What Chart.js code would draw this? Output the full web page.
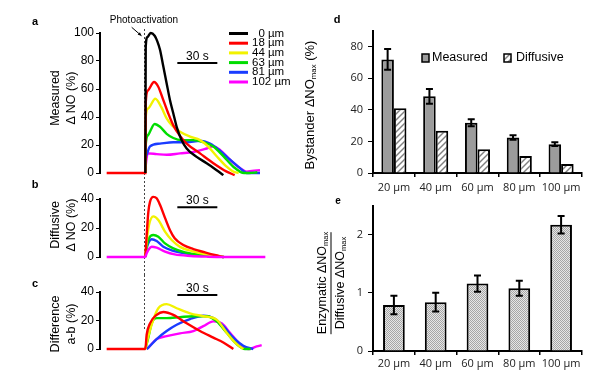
<!DOCTYPE html>
<html>
<head>
<meta charset="utf-8">
<script src="https://cdn.jsdelivr.net/npm/chart.js@4.4.0/dist/chart.umd.min.js"></script>
<style>
  html, body { margin: 0; padding: 0; background: #fff; }
  #fig { position: relative; width: 600px; height: 374px; overflow: hidden; font-family: "Liberation Sans", Arial, sans-serif; color: #000; }
  #fig canvas { position: absolute; }
  .lbl { position: absolute; transform: translate(-50%, -50%); white-space: nowrap; }
  .panel { font-weight: bold; font-size: 11px; }
  .ytitle { position: absolute; transform: translate(-50%, -50%) rotate(-90deg); white-space: nowrap; text-align: center; font-size: 12.5px; line-height: 16px; }
  .frac { line-height: 17px; }
  .frac .den { border-top: 1px solid #000; }
  sub { font-size: 0.6em; line-height: 0; vertical-align: -0.3em; }
</style>
</head>
<body>
<div id="fig">
  <canvas id="chartA" width="300" height="185" style="left:0;top:0"></canvas>
  <canvas id="chartB" width="300" height="90" style="left:0;top:185px"></canvas>
  <canvas id="chartC" width="300" height="99" style="left:0;top:275px"></canvas>
  <canvas id="chartD" width="300" height="194" style="left:300px;top:0"></canvas>
  <canvas id="chartE" width="300" height="180" style="left:300px;top:194px"></canvas>

  <div class="lbl panel" style="left:35px;top:21px">a</div>
  <div class="lbl panel" style="left:35px;top:184px">b</div>
  <div class="lbl panel" style="left:35px;top:283px">c</div>
  <div class="lbl panel" style="left:337px;top:19px">d</div>
  <div class="lbl panel" style="left:338px;top:200px;font-size:10px">e</div>
  <div class="lbl" style="left:144px;top:19px;font-size:10px">Photoactivation</div>

  <div class="ytitle" style="left:63px;top:98px">Measured<br>&Delta; NO (%)</div>
  <div class="ytitle" style="left:63px;top:225px">Diffusive<br>&Delta; NO (%)</div>
  <div class="ytitle" style="left:63px;top:324px">Difference<br>a-b (%)</div>
  <div class="ytitle" style="left:310px;top:105px;font-size:13px">Bystander &Delta;NO<sub>max</sub> (%)</div>
  <div class="ytitle frac" style="left:331px;top:283px"><div>Enzymatic &Delta;NO<sub>max</sub></div><div class="den">Diffusive &Delta;NO<sub>max</sub></div></div>
</div>

<script>
// ---- traces: [time after photoactivation (s), ΔNO (%)] ----
const traceDistances = [0, 18, 44, 63, 81, 102];
const traceColors = ["#000000", "#ff0000", "#f2f200", "#00dd00", "#1a3cff", "#ff00ff"];

// a: measured
const measured0 = [[1, 0], [1.3, 90], [2.5, 97], [5, 100], [8, 98], [10, 94], [12, 88], [14.5, 76], [17, 64], [19.5, 52], [22, 42.5], [24.5, 33], [28, 24], [32, 17.5], [39.5, 11.5], [47, 7], [54.5, 2], [59.5, -1.5]];
const measured18 = [[-28, 0], [1, 0], [1.3, 50], [3, 59], [7.5, 65], [10.5, 62], [14.5, 52], [18, 43], [22, 34], [27, 26.5], [32, 21], [42, 14], [52, 7], [62, 1], [68, -1.5]];
const measured44 = [[1, 0], [1.3, 40], [3, 46], [8.5, 53], [13, 47], [17, 39], [21, 34], [27, 29.5], [34.5, 26], [42, 23.5], [48, 19], [54.5, 12], [62, 4.5], [67, 1], [71, 0]];
const measured63 = [[1, 0], [1.3, 20], [3, 27], [8, 35], [12, 33], [17, 28], [22, 25], [28, 23.5], [37, 23.5], [44.5, 22], [52, 19], [59.5, 12], [67, 4.5], [75, 0], [79, 0], [85, 0.5]];
const measured81 = [[1, 0], [1.3, 10], [2, 13], [4.5, 19], [12, 21], [22, 22], [32, 22], [42, 23], [49.5, 21], [57, 16], [64.5, 9.5], [72, 3.5], [77, 0], [82, 0], [87, 0]];
const measured102 = [[1, 0], [1.3, 5], [3, 14], [9.5, 13.5], [17, 13], [27, 14], [37, 15], [47, 17.5], [52, 19], [57, 16.5], [64.5, 9.5], [72, 3.5], [77, 1], [81, 1.5], [87, 2]];

// b: diffusive
const diffusive18 = [[1, 0], [2, 15], [3.25, 31], [4.5, 38], [7, 41.5], [9.5, 40.5], [12, 36], [15.75, 27], [19.5, 18.5], [23, 13], [29.5, 8.3], [37, 5.5], [45.75, 3.2], [53, 1.4], [59.5, 0]];
const diffusive44 = [[1, 0], [2, 10.5], [3.75, 22], [7, 28], [10.75, 25.5], [15.75, 17.5], [20.75, 11.7], [27, 7], [35.75, 4.1], [45.75, 2], [57, 0.5], [60, 0]];
const diffusive63 = [[1, 0], [2, 7], [3.75, 13], [7, 15.2], [10.75, 14], [15.75, 9.4], [22, 6], [30.75, 3.2], [43.25, 1.4], [55.75, 0.5], [60, 0]];
const diffusive81 = [[1, 0], [2, 6], [3.75, 10.6], [5.75, 12.2], [9.5, 11], [14.5, 7.1], [20.75, 4.6], [30.75, 2.5], [43, 1.1], [55, 0.5], [60, 0]];
const diffusive102 = [[-28, 0], [1, 0], [2, 2.5], [3.75, 5.5], [5.75, 7.1], [9.5, 6.4], [15.75, 3.7], [23, 1.8], [35, 0.7], [48, 0.2], [60, 0], [91, 0]];

// c: difference a-b
const difference18 = [[-28, 0], [1, 0], [2, 10], [4.5, 18], [9.5, 24], [14.5, 26], [22, 24], [32, 18], [42, 12.6], [52, 8], [59.5, 4.6], [67, 0]];
const difference44 = [[1, 0], [3.25, 9], [7, 20.6], [10.75, 28.6], [17, 31.5], [24.5, 28.6], [34.5, 25], [44.5, 23], [54.5, 20.6], [62, 11.4], [69.5, 3.4], [74.5, 0]];
const difference63 = [[1, 0], [3, 7], [5.75, 18], [9.5, 21.7], [17, 21.7], [27, 22.4], [37, 23], [47, 23], [54.5, 19.4], [62, 11.4], [69.5, 3.4], [75.75, 0], [80, 0]];
const difference81 = [[2, 0], [3.25, 1], [9.5, 7], [17, 12.6], [24.5, 17], [34.5, 21], [44.5, 23.3], [52, 21.7], [59.5, 16], [67, 8], [74.5, 2.3], [82, 0]];
const difference102 = [[2, 0], [3.25, 1], [9.5, 7], [17, 9], [27, 11], [37, 12.6], [44.5, 16], [52, 19.4], [58.25, 18], [64.5, 11.4], [72, 3.4], [78.25, 0], [84.5, 1.8], [88.25, 2.7]];

// ---- bar panels ----
const barLabels = ["20 µm", "40 µm", "60 µm", "80 µm", "100 µm"];
const measuredPeak = [72, 48.6, 31.8, 22.5, 18.3];
const measuredErr = [6.6, 4.7, 2.2, 1.5, 1.2];
const diffusivePeak = [41, 26.7, 15, 10.7, 5.7];
const enzymaticRatio = [0.79, 0.84, 1.16, 1.08, 2.17];
const enzymaticRatioErr = [0.16, 0.16, 0.14, 0.13, 0.15];

const tMin = -33, tMax = 94.5;
const FONT = '"Liberation Sans", Arial, sans-serif';
Chart.defaults.font.family = FONT;
Chart.defaults.color = "#000";

function makePattern(size, draw) {
  const c = document.createElement("canvas");
  c.width = c.height = size;
  const g = c.getContext("2d");
  draw(g, size);
  return g.createPattern(c, "repeat");
}

const hatch = makePattern(6, (g, s) => {
  g.fillStyle = "#fff";
  g.fillRect(0, 0, s, s);
  g.strokeStyle = "#808080";
  g.lineWidth = 1.4;
  for (const o of [-s, 0, s]) {
    g.beginPath();
    g.moveTo(o - 1, s + 1);
    g.lineTo(o + s + 1, -1);
    g.stroke();
  }
});

const stipple = makePattern(2, (g) => {
  g.fillStyle = "#e6e6e6";
  g.fillRect(0, 0, 2, 2);
  g.fillStyle = "#a6a6a6";
  g.fillRect(0, 0, 1, 1);
  g.fillRect(1, 1, 1, 1);
});

// dashed photoactivation line, 30 s scale bar, legend and arrow
const tracePanel = {
  id: "tracePanel",
  beforeDatasetsDraw(chart, args, o) {
    const { ctx, scales: { x } } = chart;
    const px = Math.round(x.getPixelForValue(0)) + 0.5;
    ctx.save();
    ctx.strokeStyle = "#444";
    ctx.lineWidth = 1;
    ctx.setLineDash([2, 2]);
    ctx.beginPath();
    ctx.moveTo(px, o.dashFrom);
    ctx.lineTo(px, o.dashTo);
    ctx.stroke();
    ctx.restore();
  },
  afterDatasetsDraw(chart, args, o) {
    const { ctx, scales: { x, y } } = chart;
    ctx.save();
    const x1 = x.getPixelForValue(o.barFrom);
    const x2 = x.getPixelForValue(o.barFrom + 30);
    const yb = y.getPixelForValue(o.barLevel);
    ctx.strokeStyle = "#000";
    ctx.lineWidth = 2;
    ctx.beginPath();
    ctx.moveTo(x1, yb);
    ctx.lineTo(x2, yb);
    ctx.stroke();
    ctx.fillStyle = "#000";
    ctx.font = "12px " + FONT;
    ctx.textAlign = "center";
    ctx.textBaseline = "alphabetic";
    ctx.fillText("30 s", (x1 + x2) / 2, yb - 3);

    if (o.legend) {
      ctx.font = "11.5px " + FONT;
      ctx.textAlign = "left";
      ctx.textBaseline = "middle";
      chart.data.datasets.forEach((ds, i) => {
        const ly = 33.5 + i * 9.7;
        ctx.strokeStyle = ds.borderColor;
        ctx.lineWidth = 3;
        ctx.beginPath();
        ctx.moveTo(229, ly);
        ctx.lineTo(248, ly);
        ctx.stroke();
        ctx.fillStyle = "#000";
        ctx.fillText(ds.label, 252, ly);
      });
    }

    if (o.arrow) {
      const px = x.getPixelForValue(0);
      const sx = px - 12.3, sy = 27.3, ex = px - 2.5, ey = 35.8;
      const a = Math.atan2(ey - sy, ex - sx);
      ctx.strokeStyle = "#000";
      ctx.fillStyle = "#000";
      ctx.lineWidth = 1;
      ctx.beginPath();
      ctx.moveTo(sx, sy);
      ctx.lineTo(ex, ey);
      ctx.stroke();
      ctx.beginPath();
      ctx.moveTo(ex, ey);
      ctx.lineTo(ex - 4 * Math.cos(a - 0.45), ey - 4 * Math.sin(a - 0.45));
      ctx.lineTo(ex - 4 * Math.cos(a + 0.45), ey - 4 * Math.sin(a + 0.45));
      ctx.closePath();
      ctx.fill();
    }
    ctx.restore();
  },
};

function traceSets(list) {
  return list.map(([pts, idx]) => ({
    label: (traceDistances[idx] < 10 ? "\u2007" : "") + traceDistances[idx] + " µm",
    data: pts.map(([t, v]) => ({ x: t, y: v })),
    borderColor: traceColors[idx],
    borderWidth: 2.4,
    pointRadius: 0,
    fill: false,
    cubicInterpolationMode: "monotone",
    clip: false,
  }));
}

function traceChart(id, datasets, yMax, padding, panelOpts) {
  return new Chart(document.getElementById(id), {
    type: "line",
    data: { datasets },
    options: {
      responsive: false,
      animation: false,
      events: [],
      layout: { padding },
      plugins: {
        legend: { display: false },
        tooltip: { enabled: false },
        tracePanel: panelOpts,
      },
      scales: {
        x: { type: "linear", display: false, min: tMin, max: tMax },
        y: {
          min: 0,
          max: yMax,
          ticks: { stepSize: 20, padding: 2, font: { size: 12 }, color: "#000" },
          grid: { drawOnChartArea: false, tickLength: 4, color: "#000" },
          border: { color: "#000", width: 2 },
          afterFit: (s) => { s.width = 100; },
        },
      },
    },
    plugins: [tracePanel],
  });
}

// Panel a
traceChart(
  "chartA",
  traceSets([[measured0, 0], [measured18, 1], [measured44, 2], [measured63, 3], [measured81, 4], [measured102, 5]]),
  100,
  { top: 33, bottom: 12, left: 0, right: 30 },
  { dashFrom: 29, dashTo: 185, barFrom: 25, barLevel: 78.6, legend: true, arrow: true }
);

// Panel b
traceChart(
  "chartB",
  traceSets([[diffusive102, 5], [diffusive18, 1], [diffusive44, 2], [diffusive63, 3], [diffusive81, 4]]),
  40,
  { top: 14, bottom: 18, left: 0, right: 30 },
  { dashFrom: 0, dashTo: 90, barFrom: 25, barLevel: 34.3 }
);

// Panel c
traceChart(
  "chartC",
  traceSets([[difference18, 1], [difference44, 2], [difference63, 3], [difference81, 4], [difference102, 5]]),
  40,
  { top: 17, bottom: 25, left: 0, right: 30 },
  { dashFrom: 0, dashTo: 55, barFrom: 25, barLevel: 37.9 }
);

// error bars + inline legend for the bar panels
const barExtras = {
  id: "barExtras",
  afterDatasetsDraw(chart, args, o) {
    const { ctx, scales: { y } } = chart;
    ctx.save();
    ctx.strokeStyle = "#000";
    ctx.lineWidth = 2;
    chart.data.datasets.forEach((ds, di) => {
      if (!ds.errorBars) return;
      chart.getDatasetMeta(di).data.forEach((bar, i) => {
        const hi = y.getPixelForValue(ds.data[i] + ds.errorBars[i]);
        const lo = y.getPixelForValue(ds.data[i] - ds.errorBars[i]);
        ctx.beginPath();
        ctx.moveTo(bar.x, hi);
        ctx.lineTo(bar.x, lo);
        ctx.moveTo(bar.x - 3.5, hi);
        ctx.lineTo(bar.x + 3.5, hi);
        ctx.moveTo(bar.x - 3.5, lo);
        ctx.lineTo(bar.x + 3.5, lo);
        ctx.stroke();
      });
    });
    if (o.legend) {
      ctx.font = "12.5px " + FONT;
      ctx.textBaseline = "middle";
      ctx.textAlign = "left";
      const spots = [[122, 132], [204, 216]];
      chart.data.datasets.forEach((ds, i) => {
        const [bx, tx] = spots[i];
        ctx.fillStyle = ds.backgroundColor;
        ctx.fillRect(bx, 54, 7, 8);
        ctx.lineWidth = 1.5;
        ctx.strokeRect(bx, 54, 7, 8);
        ctx.fillStyle = "#000";
        ctx.fillText(ds.label, tx, 58);
      });
    }
    ctx.restore();
  },
};

function barScales(yMax, step, xHeight, xPad) {
  const tickFont = { family: '"Open Sans", sans-serif', size: 11 };
  return {
    x: {
      grid: { offset: true, drawOnChartArea: false, tickLength: 4, color: "#000", lineWidth: 1.5 },
      border: { color: "#000", width: 2 },
      ticks: { font: tickFont, color: "#222", padding: xPad, maxRotation: 0, autoSkip: false },
      afterFit: (s) => { s.height = xHeight; },
    },
    y: {
      min: 0,
      max: yMax,
      ticks: { stepSize: step, includeBounds: false, padding: 5, font: tickFont, color: "#222" },
      grid: { drawOnChartArea: false, tickLength: 5, color: "#000" },
      border: { color: "#000", width: 2 },
      afterFit: (s) => { s.width = 73; },
    },
  };
}

// Panel d
new Chart(document.getElementById("chartD"), {
  type: "bar",
  data: {
    labels: barLabels,
    datasets: [
      { label: "Measured", data: measuredPeak, errorBars: measuredErr, backgroundColor: "#9c9c9c", borderColor: "#000", borderWidth: 2 },
      { label: "Diffusive", data: diffusivePeak, backgroundColor: hatch, borderColor: "#000", borderWidth: 2 },
    ],
  },
  options: {
    responsive: false,
    animation: false,
    events: [],
    layout: { padding: { top: 31, right: 18, left: 0, bottom: 0 } },
    datasets: { bar: { categoryPercentage: 0.6, barPercentage: 1 } },
    plugins: { legend: { display: false }, tooltip: { enabled: false }, barExtras: { legend: true } },
    scales: barScales(90, 20, 21, 4),
  },
  plugins: [barExtras],
});

// Panel e
new Chart(document.getElementById("chartE"), {
  type: "bar",
  data: {
    labels: barLabels,
    datasets: [
      { label: "Enzymatic / Diffusive", data: enzymaticRatio, errorBars: enzymaticRatioErr, backgroundColor: stipple, borderColor: "#000", borderWidth: 2 },
    ],
  },
  options: {
    responsive: false,
    animation: false,
    events: [],
    layout: { padding: { top: 9, right: 18, left: 0, bottom: 0 } },
    datasets: { bar: { categoryPercentage: 0.52, barPercentage: 1 } },
    plugins: { legend: { display: false }, tooltip: { enabled: false }, barExtras: { legend: false } },
    scales: barScales(2.5, 1, 23, 2),
  },
  plugins: [barExtras],
});
</script>
</body>
</html>
